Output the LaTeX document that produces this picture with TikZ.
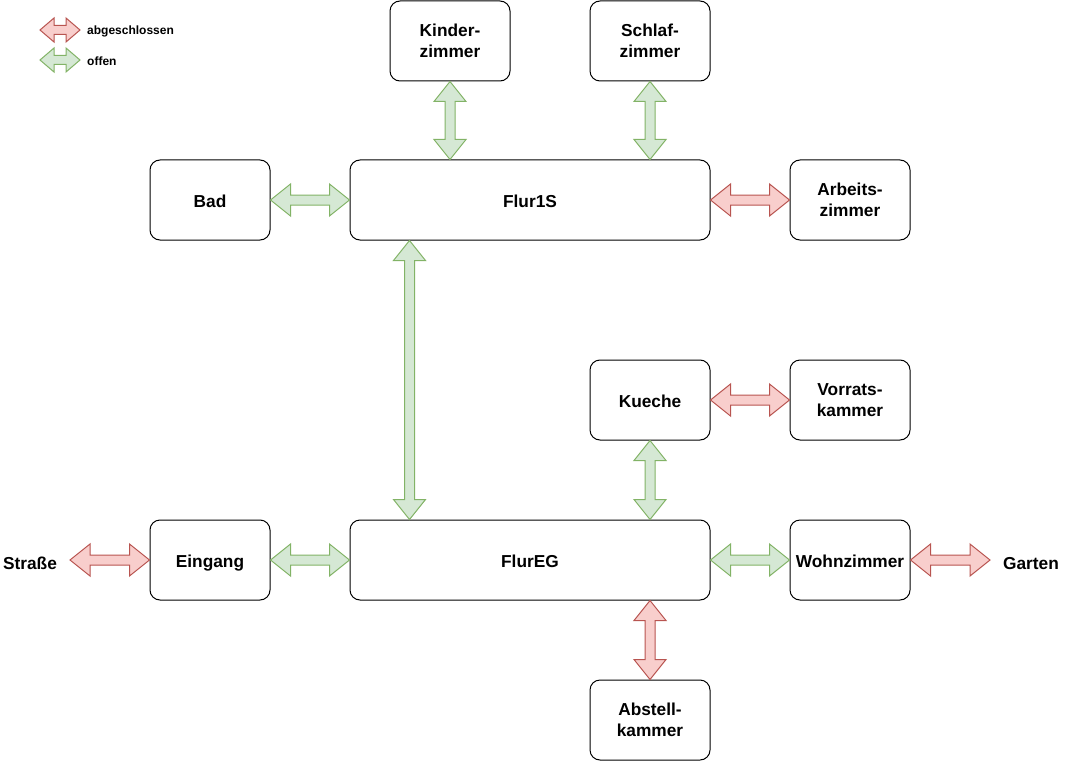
\documentclass[tikz,border=0pt]{standalone}
\usepackage{fontspec}
\setmainfont{Liberation Sans}
\usetikzlibrary{calc}
\definecolor{gfill}{HTML}{D5E8D4}
\definecolor{gline}{HTML}{82B366}
\definecolor{rfill}{HTML}{F8CECC}
\definecolor{rline}{HTML}{B85450}
\newcommand{\flexarr}[6]{%
  \coordinate (fa1) at (#2);
  \coordinate (fa2) at (#3);
  \coordinate (fh1) at ($(fa1)!#4!(fa2)$);
  \coordinate (fh2) at ($(fa2)!#4!(fa1)$);
  \draw[#1] (fa1) -- ($(fh1)!#5!90:(fa2)$) -- ($(fh1)!#6!90:(fa2)$)
    -- ($(fh2)!#6!-90:(fa1)$) -- ($(fh2)!#5!-90:(fa1)$) -- (fa2)
    -- ($(fh2)!#5!90:(fa1)$) -- ($(fh2)!#6!90:(fa1)$)
    -- ($(fh1)!#6!-90:(fa2)$) -- ($(fh1)!#5!-90:(fa2)$) -- cycle;}
\newcommand{\bigarr}[3]{\flexarr{#1}{#2}{#3}{20pt}{16pt}{5pt}}
\tikzset{
  room/.style={draw, line width=1pt, rounded corners=10pt, minimum width=120pt,
    minimum height=80pt, align=center, inner sep=0pt,
    font=\bfseries\fontsize{17.3}{20.5}\selectfont},
  oneline/.style={text height=16pt, text depth=2pt},
  flur/.style={room, oneline, minimum width=360pt},
  plain/.style={font=\bfseries\fontsize{17.3}{20.5}\selectfont, inner sep=0pt, oneline},
  legtext/.style={font=\bfseries\fontsize{12}{14}\selectfont, anchor=west, inner sep=0pt},
  openarr/.style={fill=gfill, draw=gline, line width=1pt, line join=miter},
  closedarr/.style={fill=rfill, draw=rline, line width=1pt, line join=miter}
}
\begin{document}
\begin{tikzpicture}[x=1pt, y=-1pt]
\useasboundingbox (0,0) rectangle (1091,762);
% rooms
\node[room] (kinder) at (450,41) {Kinder-\\zimmer};
\node[room] (schlaf) at (650,41) {Schlaf-\\zimmer};
\node[room, oneline] (bad) at (210,200) {Bad};
\node[flur] (flur1s) at (530,200) {Flur1S};
\node[room] (arbeit) at (850,200) {Arbeits-\\zimmer};
\node[room, oneline] (kueche) at (650,400) {Kueche};
\node[room] (vorrat) at (850,400) {Vorrats-\\kammer};
\node[room, oneline] (eingang) at (210,560) {Eingang};
\node[flur] (flureg) at (530,560) {FlurEG};
\node[room, oneline] (wohn) at (850,560) {Wohnzimmer};
\node[room] (abstell) at (650,720) {Abstell-\\kammer};
\node[plain] (strasse) at (30,562) {Straße};
\node[plain] (garten) at (1031,562) {Garten};
\coordinate (strasseEnd) at (70,560);
\coordinate (gartenEnd) at (990,560);
% legend
\coordinate (lg1a) at (40,30); \coordinate (lg1b) at (80,30);
\coordinate (lg2a) at (40,60); \coordinate (lg2b) at (80,60);
\flexarr{closedarr}{lg1a}{lg1b}{14pt}{12pt}{4.5pt}
\flexarr{openarr}{lg2a}{lg2b}{14pt}{12pt}{4.5pt}
\node[legtext] (legc) at (87,31) {abgeschlossen};
\node[legtext] (lego) at (87,61) {offen};
% connectors
\bigarr{openarr}{kinder.south}{kinder.south |- flur1s.north}
\bigarr{openarr}{schlaf.south}{schlaf.south |- flur1s.north}
\bigarr{openarr}{bad.east}{flur1s.west}
\bigarr{closedarr}{flur1s.east}{arbeit.west}
\bigarr{openarr}{[xshift=60pt]flur1s.south west}{[xshift=60pt]flureg.north west}
\bigarr{closedarr}{kueche.east}{vorrat.west}
\bigarr{openarr}{kueche.south}{kueche.south |- flureg.north}
\bigarr{closedarr}{strasseEnd}{eingang.west}
\bigarr{openarr}{eingang.east}{flureg.west}
\bigarr{openarr}{flureg.east}{wohn.west}
\bigarr{closedarr}{wohn.east}{gartenEnd}
\bigarr{closedarr}{abstell.north |- flureg.south}{abstell.north}
\end{tikzpicture}
\end{document}
